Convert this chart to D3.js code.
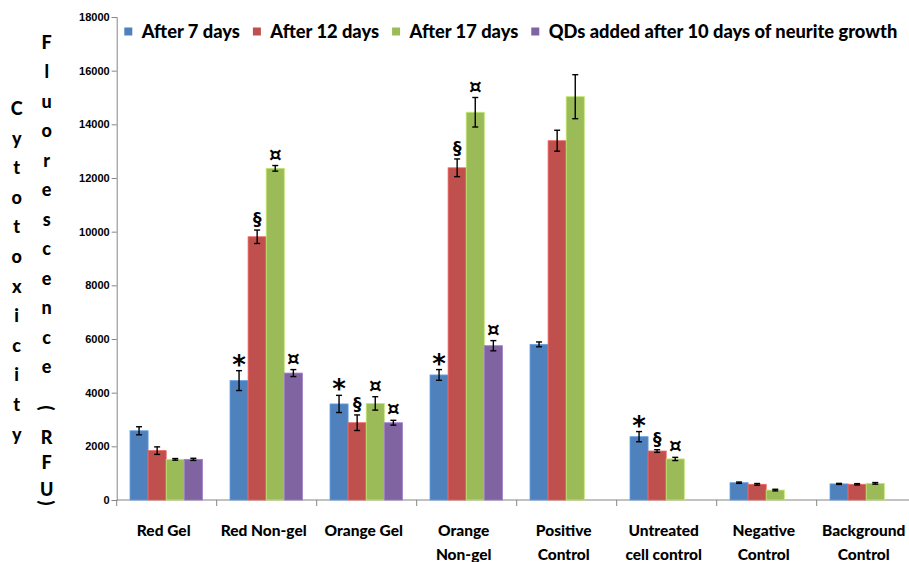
<!DOCTYPE html>
<html>
<head>
<meta charset="utf-8">
<script src="https://cdn.jsdelivr.net/npm/d3@7"></script>
<style>
  body { margin: 0; background: #fff; }
  text { font-family: Lato, "Open Sans", sans-serif; font-weight: 900; fill: #000; }
</style>
</head>
<body>
<script>
// values
const categories = ["Red Gel", "Red Non-gel", "Orange Gel", "Orange\nNon-gel", "Positive\nControl",
    "Untreated\ncell control", "Negative\nControl", "Background\nControl"];
const seriesNames = ["After 7 days", "After 12 days", "After 17 days", "QDs added after 10 days of neurite growth"];
const seriesColors = ["#4F81BD", "#C0504D", "#9BBB59", "#8064A2"];

const after7 = [2580, 4450, 3580, 4660, 5800, 2360, 645, 600];
const after7Err = [150, 370, 320, 200, 90, 190, 25, 20];
const after12 = [1840, 9810, 2880, 12380, 13390, 1825, 585, 585];
const after12Err = [140, 250, 290, 330, 390, 50, 30, 25];
const after17 = [1515, 12360, 3600, 14450, 15030, 1530, 370, 620];
const after17Err = [30, 105, 250, 550, 820, 60, 30, 30];
const qdsAdded = [1515, 4730, 2880, 5750, null, null, null, null];
const qdsAddedErr = [40, 130, 90, 190, null, null, null, null];

// significance symbols above the bars
const marks7 = ["", "*", "*", "*", "", "*", "", ""];
const marks12 = ["", "§", "§", "§", "", "§", "", ""];
const marks17 = ["", "¤", "¤", "¤", "", "¤", "", ""];
const marksQds = ["", "¤", "¤", "¤", "", "", "", ""];

const yTicks = [0, 2000, 4000, 6000, 8000, 10000, 12000, 14000, 16000, 18000];

const allValues = [after7, after12, after17, qdsAdded];
const allErrors = [after7Err, after12Err, after17Err, qdsAddedErr];
const allMarks = [marks7, marks12, marks17, marksQds];

const width = 909, height = 562;
const plotLeft = 116.7, plotTop = 17, plotW = 800, plotBottom = 500;

const svg = d3.select("body").append("svg")
    .attr("width", width)
    .attr("height", height);

const x = d3.scaleBand()
    .domain(categories)
    .range([plotLeft, plotLeft + plotW]);

const xSub = d3.scaleBand()
    .domain(d3.range(4))
    .range([x.bandwidth() * 0.133, x.bandwidth() * 0.857]);

const y = d3.scaleLinear()
    .domain([0, 18000])
    .range([plotBottom, plotTop]);

// y axis
const yAxis = svg.append("g")
    .attr("transform", `translate(${plotLeft},0)`)
    .call(d3.axisLeft(y).tickValues(yTicks).tickSize(5).tickPadding(2).tickFormat(d3.format("d")));
yAxis.select(".domain").attr("stroke", "#868686");
yAxis.selectAll(".tick line").attr("stroke", "#868686");
yAxis.selectAll(".tick text")
    .style("font-family", "'Liberation Sans', Arial, sans-serif")
    .style("font-size", "11px")
    .style("font-weight", "700")
    .attr("fill", "#1a1a1a");

// x axis line + category boundary ticks
const xAxis = svg.append("g")
    .attr("transform", `translate(0,${plotBottom})`);
xAxis.append("line")
    .attr("x1", plotLeft).attr("x2", width)
    .attr("stroke", "#868686");
xAxis.selectAll("line.tick")
    .data(categories.concat([null]))
    .enter().append("line")
    .attr("class", "tick")
    .attr("x1", (d, i) => plotLeft + i * x.step())
    .attr("x2", (d, i) => plotLeft + i * x.step())
    .attr("y1", 0).attr("y2", 6)
    .attr("stroke", "#868686");

const catLabels = svg.append("g");
categories.forEach(c => {
    const t = catLabels.append("text")
        .attr("x", x(c) + x.bandwidth() / 2 - 3)
        .attr("y", 536)
        .attr("text-anchor", "middle")
        .style("font-size", "15.5px");
    c.split("\n").forEach((line, j) => {
        t.append("tspan")
            .attr("x", x(c) + x.bandwidth() / 2 - 3)
            .attr("dy", j === 0 ? 0 : 24)
            .text(line);
    });
});

// bars, error bars and symbols
allValues.forEach((vals, s) => {
    const g = svg.append("g");
    const rows = categories.map((c, i) => ({
        cat: c, v: vals[i], e: allErrors[s][i], m: allMarks[s][i]
    })).filter(d => d.v != null);

    g.selectAll("rect")
        .data(rows)
        .enter().append("rect")
        .attr("x", d => x(d.cat) + xSub(s))
        .attr("y", d => y(d.v))
        .attr("width", xSub.bandwidth())
        .attr("height", d => plotBottom - y(d.v))
        .attr("fill", seriesColors[s])
        .attr("stroke", d3.color(seriesColors[s]).brighter(0.6))
        .attr("stroke-width", 0.8);

    const cx = d => x(d.cat) + xSub(s) + xSub.bandwidth() / 2;

    const eb = g.selectAll("g.err")
        .data(rows)
        .enter().append("g")
        .attr("class", "err")
        .attr("stroke", "#000")
        .attr("stroke-width", 1.4);
    eb.append("line")
        .attr("x1", cx).attr("x2", cx)
        .attr("y1", d => y(d.v + d.e)).attr("y2", d => y(d.v - d.e));
    eb.append("line")
        .attr("x1", d => cx(d) - 3).attr("x2", d => cx(d) + 3)
        .attr("y1", d => y(d.v + d.e)).attr("y2", d => y(d.v + d.e));
    eb.append("line")
        .attr("x1", d => cx(d) - 3).attr("x2", d => cx(d) + 3)
        .attr("y1", d => y(d.v - d.e)).attr("y2", d => y(d.v - d.e));

    g.selectAll("text.mark")
        .data(rows.filter(d => d.m))
        .enter().append("text")
        .attr("class", "mark")
        .attr("x", cx)
        .attr("y", d => y(d.v + d.e) - (d.m === "*" ? -3 : 5))
        .attr("text-anchor", "middle")
        .style("font-family", "'DejaVu Sans', sans-serif")
        .style("font-weight", "700")
        .style("font-size", d => d.m === "*" ? "26px" : (d.m === "¤" ? "20px" : "17px"))
        .text(d => d.m);
});

// legend
const legend = svg.append("g");
let lx = 124.3;
seriesNames.forEach((name, s) => {
    legend.append("rect")
        .attr("x", lx).attr("y", 27.5)
        .attr("width", 8).attr("height", 8)
        .attr("fill", seriesColors[s]);
    const t = legend.append("text")
        .attr("x", lx + 17.4)
        .attr("y", 38)
        .style("font-size", "18.3px")
        .text(name);
    lx += 17.4 + t.node().getComputedTextLength() + 13;
});

// stacked axis titles
const title1 = "Cytotoxicity".split("");
svg.append("g").selectAll("text")
    .data(title1)
    .enter().append("text")
    .attr("x", 16.7)
    .attr("y", (d, i) => 108 + i * 29.6)
    .attr("text-anchor", "middle")
    .attr("dominant-baseline", "central")
    .style("font-size", "18px")
    .text(d => d);

const title2 = "Fluorescence(RFU)".split("");
const title2Y = [41.7, 71, 100.5, 130, 159.5, 189, 218.5, 248, 277.5, 307, 336.5, 366, 408, 436.7, 462, 489, 503];
svg.append("g").selectAll("text")
    .data(title2)
    .enter().append("text")
    .attr("text-anchor", "middle")
    .attr("dominant-baseline", "central")
    .attr("transform", (d, i) => `translate(46.7,${title2Y[i]})` + (d === "(" || d === ")" ? " rotate(90)" : ""))
    .style("font-size", "18px")
    .text(d => d);
</script>
</body>
</html>
